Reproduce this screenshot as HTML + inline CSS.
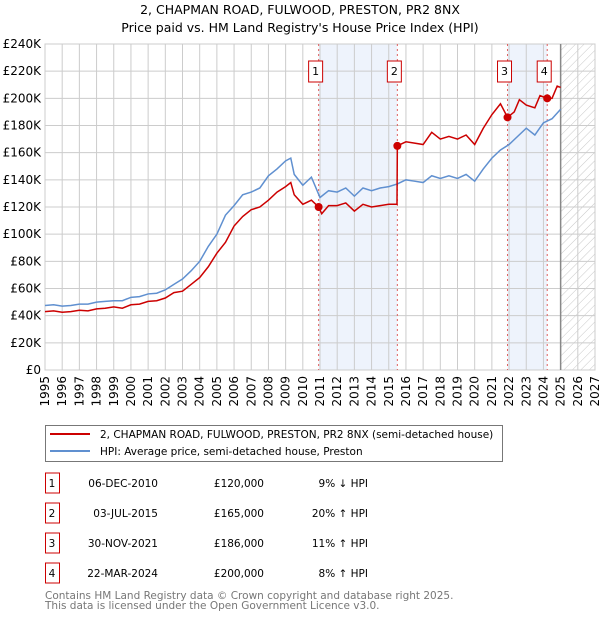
<!DOCTYPE html>
<html><head><meta charset="utf-8"><style>
body{margin:0;background:#fff;font-family:"DejaVu Sans","Liberation Sans",sans-serif;}
svg text{font-family:"DejaVu Sans","Liberation Sans",sans-serif;}
</style></head><body>
<svg id="chart" width="600" height="620" viewBox="0 0 600 620">
<defs>
<pattern id="hatch" width="6" height="6" patternUnits="userSpaceOnUse" patternTransform="rotate(45)">
<line x1="0" y1="0" x2="0" y2="6" stroke="#c8c8c8" stroke-width="1"/>
</pattern>
</defs>
<text x="300" y="14" text-anchor="middle" font-size="12.5" fill="#000">2, CHAPMAN ROAD, FULWOOD, PRESTON, PR2 8NX</text>
<text x="300" y="32" text-anchor="middle" font-size="12.5" fill="#000">Price paid vs. HM Land Registry's House Price Index (HPI)</text>
<g id="plot"></g>
<g>
<rect x="45.5" y="425.5" width="457" height="36" fill="#fff" stroke="#777"/>
<line x1="50" y1="434" x2="90" y2="434" stroke="#cc0000" stroke-width="2"/>
<text x="100" y="438" font-size="10.5">2, CHAPMAN ROAD, FULWOOD, PRESTON, PR2 8NX (semi-detached house)</text>
<line x1="50" y1="451" x2="90" y2="451" stroke="#6090d0" stroke-width="2"/>
<text x="100" y="455" font-size="10.5">HPI: Average price, semi-detached house, Preston</text>
</g>
<g id="table" font-size="10.5"></g>
<text x="45" y="599" font-size="10.5" fill="#777">Contains HM Land Registry data © Crown copyright and database right 2025.</text>
<text x="45" y="609" font-size="10.5" fill="#777">This data is licensed under the Open Government Licence v3.0.</text>
</svg>
<script>
const yTicks=[0,20000,40000,60000,80000,100000,120000,140000,160000,180000,200000,220000,240000];
const yTickLabels=["£0","£20K","£40K","£60K","£80K","£100K","£120K","£140K","£160K","£180K","£200K","£220K","£240K"];
const xYears=[1995,1996,1997,1998,1999,2000,2001,2002,2003,2004,2005,2006,2007,2008,2009,2010,2011,2012,2013,2014,2015,2016,2017,2018,2019,2020,2021,2022,2023,2024,2025,2026,2027];
const hpiDates=[1995,1995.5,1996,1996.5,1997,1997.5,1998,1998.5,1999,1999.5,2000,2000.5,2001,2001.5,2002,2002.5,2003,2003.5,2004,2004.5,2005,2005.5,2006,2006.5,2007,2007.5,2008,2008.5,2009,2009.3,2009.5,2010,2010.5,2010.9,2011,2011.5,2012,2012.5,2013,2013.5,2014,2014.5,2015,2015.5,2016,2016.5,2017,2017.5,2018,2018.5,2019,2019.5,2020,2020.5,2021,2021.5,2022,2022.5,2023,2023.5,2024,2024.5,2025];
const hpiValues=[47500,48000,47000,47500,48500,48500,50000,50500,51000,51000,53500,54000,56000,56500,59000,63000,67000,73000,80000,91000,100000,114000,121000,129000,131000,134000,143000,148000,154000,156000,144000,136000,142000,130000,127000,132000,131000,134000,128000,134000,132000,134000,135000,137000,140000,139000,138000,143000,141000,143000,141000,144000,139000,148000,156000,162000,166000,172000,178000,173000,182000,185000,192000];
const ppDates=[1995,1995.5,1996,1996.5,1997,1997.5,1998,1998.5,1999,1999.5,2000,2000.5,2001,2001.5,2002,2002.5,2003,2003.5,2004,2004.5,2005,2005.5,2006,2006.5,2007,2007.5,2008,2008.5,2009,2009.3,2009.5,2010,2010.5,2010.92,2011.1,2011.5,2012,2012.5,2013,2013.5,2014,2014.5,2015,2015.48,2015.5,2016,2016.5,2017,2017.5,2018,2018.5,2019,2019.5,2020,2020.5,2021,2021.5,2021.91,2022.3,2022.6,2023,2023.5,2023.8,2024.22,2024.5,2024.8,2025];
const ppValues=[43000,43500,42500,43000,44000,43500,45000,45500,46500,45500,48000,48500,50500,51000,53000,57000,58000,63000,68000,76000,86000,94000,106000,113000,118000,120000,125000,131000,135000,138000,129000,122000,125000,120000,115000,121000,121000,123000,117000,122000,120000,121000,122000,122000,165000,168000,167000,166000,175000,170000,172000,170000,173000,166000,178000,188000,196000,186000,190000,199000,195000,193000,202000,200000,200000,209000,208000];
const saleDates=[2010.92,2015.5,2021.91,2024.22];
const salePrices=[120000,165000,186000,200000];
const saleLabels=["1","2","3","4"];
const saleDateText=["06-DEC-2010","03-JUL-2015","30-NOV-2021","22-MAR-2024"];
const salePriceText=["£120,000","£165,000","£186,000","£200,000"];
const saleHpiText=["9% ↓ HPI","20% ↑ HPI","11% ↑ HPI","8% ↑ HPI"];

const X0=45,X1=595,Y0=370,Y1=44;
const xs=t=>X0+(t-1995)/(2027-1995)*(X1-X0);
const ys=v=>Y0-v/240000*(Y0-Y1);
const NS="http://www.w3.org/2000/svg";
const plot=document.getElementById('plot');
function mk(tag,attrs,parent){const e=document.createElementNS(NS,tag);for(const k in attrs)e.setAttribute(k,attrs[k]);(parent||plot).appendChild(e);return e;}

for(let i=0;i<saleDates.length;i+=2){
 const b=mk('rect',{x:xs(saleDates[i]),y:Y1,width:xs(saleDates[i+1])-xs(saleDates[i]),height:Y0-Y1,fill:'#eef3fc'});
 
 
}
const h=mk('rect',{x:xs(2025),y:Y1,width:X1-xs(2025),height:Y0-Y1,fill:'url(#hatch)'});


yTicks.forEach((v,i)=>{
 const l=mk('line',{x1:X0,x2:X1,y1:ys(v),y2:ys(v),stroke:'#ccc','stroke-width':1});
 
 
 const t=mk('text',{x:X0-4,y:ys(v)+4,'text-anchor':'end','font-size':12});
 t.textContent=yTickLabels[i];
 
 
});
xYears.forEach(yr=>{
 const l=mk('line',{x1:xs(yr),x2:xs(yr),y1:Y1,y2:Y0,stroke:'#ccc','stroke-width':1});
 
 
 const t=mk('text',{x:0,y:0,'text-anchor':'end','font-size':12,transform:`translate(${xs(yr)+4},${Y0+6}) rotate(-90)`});
 t.textContent=yr;
 
 
});
const ax=mk('rect',{x:X0,y:Y1,width:X1-X0,height:Y0-Y1,fill:'none',stroke:'#ccc'});


const nl=mk('line',{x1:xs(2025),x2:xs(2025),y1:Y1,y2:Y0,stroke:'#888','stroke-width':1.5});


saleDates.forEach((d,i)=>{
 const l=mk('line',{x1:xs(d),x2:xs(d),y1:Y1,y2:Y0,stroke:'#e06060','stroke-width':1,'stroke-dasharray':'2,3'});
 
 
 const r=mk('rect',{x:xs(d)-10,y:61,width:14,height:21,fill:'#fff',stroke:'#cc0000'});
 
 
 const t=mk('text',{x:xs(d)-3,y:75,'text-anchor':'middle','font-size':11});
 t.textContent=saleLabels[i];
 
 
});
const hp=mk('polyline',{points:hpiDates.map((d,i)=>xs(d)+','+ys(hpiValues[i])).join(' '),fill:'none',stroke:'#6090d0','stroke-width':1.5});


const pp=mk('polyline',{points:ppDates.map((d,i)=>xs(d)+','+ys(ppValues[i])).join(' '),fill:'none',stroke:'#cc0000','stroke-width':1.5});


saleDates.forEach((d,i)=>{
 const c=mk('circle',{cx:xs(d),cy:ys(salePrices[i]),r:4,fill:'#cc0000'});
 
 
});
const tb=document.getElementById('table');
saleDates.forEach((d,i)=>{
 const cy=483+i*30;
 const r=mk('rect',{x:45.5,y:cy-10,width:14,height:20,fill:'#fff',stroke:'#cc0000'},tb);
 
 
 const cells=[[52,saleLabels[i],'middle','table-row-number'],[158,saleDateText[i],'end','table-date'],[264,salePriceText[i],'end','table-price'],[368,saleHpiText[i],'end','table-hpi-diff']];
 cells.forEach(c=>{
  const t=mk('text',{x:c[0],y:cy+4,'text-anchor':c[2]},tb);
  t.textContent=c[1];
  
  
 });
});
</script>
</body></html>
